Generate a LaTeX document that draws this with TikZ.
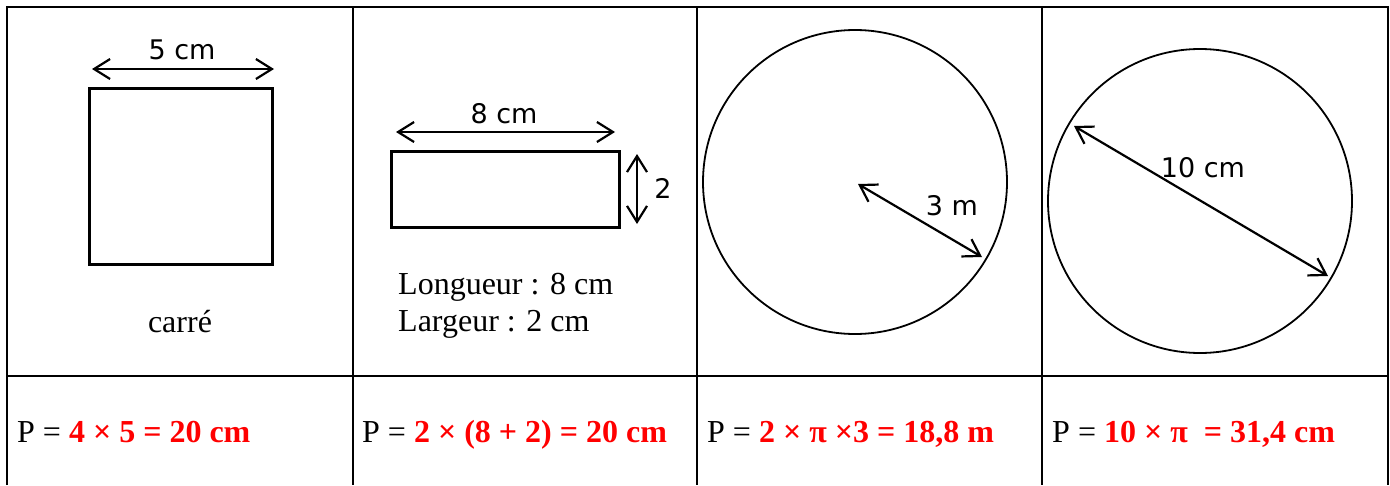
\documentclass[tikz,border=0pt]{standalone}
\usepackage{fontspec}
\setmainfont{Liberation Serif}
\newfontfamily\cotefont{DejaVu Sans}
\usetikzlibrary{arrows.meta}
\definecolor{rouge}{RGB}{255,0,0}
\begin{document}
\begin{tikzpicture}[x=1pt, y=-1pt,
    grille/.style={line width=2pt},
    figure/.style={line width=3pt},
    cercle/.style={line width=1.8pt},
    cote/.style={line width=2.2pt, {Straight Barb[length=16pt,width=20pt]}-{Straight Barb[length=16pt,width=20pt]}},
    etiquette/.style={font=\cotefont\fontsize{27}{31}\selectfont, anchor=base, inner sep=0pt},
    texte/.style={font=\fontsize{32}{37}\selectfont, anchor=base west, inner sep=0pt},
    formule/.style={texte}]
    \useasboundingbox (0,0) rectangle (1390,485);
    \fill[white] (0,0) rectangle (1390,485);

    % Tableau
    \draw[grille] (7,485) -- (7,7) -- (1388,7) -- (1388,485);
    \draw[grille] (7,376) -- (1388,376);
    \foreach \x in {353,697,1042}
        \draw[grille] (\x,7) -- (\x,485);

    % Carre
    \draw[figure] (89,88) rectangle (272,264);
    \coordinate (carreG) at (92,69);
    \coordinate (carreD) at (274,69);
    \draw[cote] (carreG) -- (carreD);
    \node[etiquette] (carreCote) at (182,59) {5 cm};
    \node[texte, anchor=base] (carreNom) at (180,332) {carré};

    % Rectangle
    \draw[figure] (391,151) rectangle (619,227);
    \coordinate (longG) at (396,132);
    \coordinate (longD) at (615,132);
    \draw[cote] (longG) -- (longD);
    \node[etiquette] (longCote) at (504,123) {8 cm};
    \coordinate (largH) at (637,154);
    \coordinate (largB) at (637,224);
    \draw[cote] (largH) -- (largB);
    \node[etiquette] (largCote) at (663,198) {2};
    \node[texte] (longueur) at (398,294) {Longueur : 8 cm};
    \node[texte] (largeur) at (398,331) {Largeur : 2 cm};

    % Cercle de rayon 3 m
    \draw[cercle] (855,182) circle (152);
    \coordinate (rayonA) at (858,184);
    \coordinate (rayonB) at (982,257);
    \draw[cote] (rayonA) -- (rayonB);
    \node[etiquette] (rayonCote) at (952,215) {3 m};

    % Cercle de diametre 10 cm
    \draw[cercle] (1200,201) circle (152);
    \coordinate (diamA) at (1074,126);
    \coordinate (diamB) at (1328,276);
    \draw[cote] (diamA) -- (diamB);
    \node[etiquette] (diamCote) at (1203,177) {10 cm};

    % Perimetres
    \node[formule] (perCarre) at (17,442) {P = \textcolor{rouge}{\bfseries 4 × 5 = 20 cm}};
    \node[formule] (perRect) at (362,442) {P = \textcolor{rouge}{\bfseries 2 × (8 + 2) = 20 cm}};
    \node[formule] (perCercleA) at (707,442) {P = \textcolor{rouge}{\bfseries 2 × π ×3 = 18,8 m}};
    \node[formule] (perCercleB) at (1052,442) {P = \textcolor{rouge}{\bfseries 10 × π \ = 31,4 cm}};
\end{tikzpicture}
\end{document}
